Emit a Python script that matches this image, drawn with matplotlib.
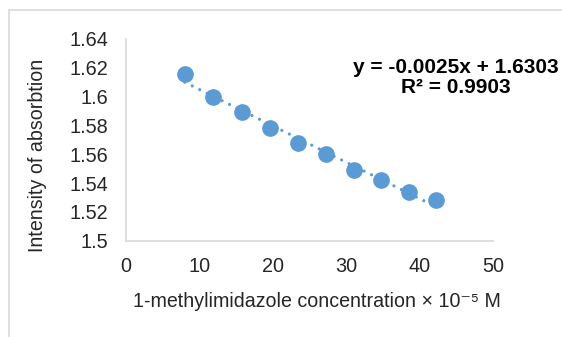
import numpy as np
import matplotlib.pyplot as plt
from matplotlib.patches import Rectangle

# ======================================================
# DATA
# ======================================================

concentration = [8.0, 11.9, 15.8, 19.6, 23.5, 27.2, 31.1, 34.8, 38.6, 42.2]

absorption = [1.616, 1.600, 1.589, 1.578, 1.568, 1.560, 1.549, 1.542, 1.534, 1.528]

x_ticks = [0, 10, 20, 30, 40, 50]
y_ticks = [1.5, 1.52, 1.54, 1.56, 1.58, 1.6, 1.62, 1.64]
y_tick_labels = ["1.5", "1.52", "1.54", "1.56", "1.58", "1.6", "1.62", "1.64"]

equation = "y = -0.0025x + 1.6303\nR² = 0.9903"

# ======================================================
# STYLE
# ======================================================

plt.rcParams["font.family"] = ["Liberation Sans", "DejaVu Sans"]

BLUE = "#5b9bd5"
GRID = "#d9d9d9"
TEXT = "#262626"

# ======================================================
# FIGURE
# ======================================================

fig = plt.figure(figsize=(5.62, 3.37), dpi=100)

# outer chart border
fig.patches.append(
    Rectangle(
        (9 / 562, -0.05), 1.2, 1 - 10 / 337 + 0.05,
        transform=fig.transFigure,
        fill=False,
        edgecolor=GRID,
        linewidth=1.2
    )
)

ax = fig.add_axes([126 / 562, 1 - 240.7 / 337, (493 - 126) / 562, (240.7 - 39) / 337])

# trendline
coef = np.polyfit(concentration, absorption, 1)
x_fit = np.array([min(concentration), max(concentration)])

ax.plot(
    x_fit,
    np.polyval(coef, x_fit),
    color=BLUE,
    linewidth=2.3,
    linestyle=(0, (0.01, 2.6)),
    dash_capstyle="round",
    zorder=2
)

ax.plot(
    concentration,
    absorption,
    linestyle="none",
    marker="o",
    markersize=11,
    color=BLUE,
    zorder=3
)

ax.set_xlim(0, 50)
ax.set_ylim(1.5, 1.64)

ax.set_xticks(x_ticks)
ax.set_yticks(y_ticks)
ax.set_yticklabels(y_tick_labels)

ax.tick_params(length=0, labelsize=14.3, labelcolor=TEXT)
ax.tick_params(axis="y", pad=13)
ax.tick_params(axis="x", pad=12)

for side in ["top", "right"]:
    ax.spines[side].set_visible(False)

for side in ["left", "bottom"]:
    ax.spines[side].set_color(GRID)
    ax.spines[side].set_linewidth(1.2)

ax.set_xlabel("1-methylimidazole concentration × 10⁻⁵ M", fontsize=14.1, color=TEXT)
ax.set_ylabel("Intensity of absorbtion", fontsize=14.1, color=TEXT)
ax.xaxis.set_label_coords(0.52, -0.255)
ax.yaxis.set_label_coords(-0.215, 0.425)

ax.text(
    0.90, 0.81,
    equation,
    transform=ax.transAxes,
    ha="center",
    va="center",
    fontsize=15,
    fontweight="bold",
    color="black",
    linespacing=1.1
)

fig.savefig("out.png", dpi=100)
